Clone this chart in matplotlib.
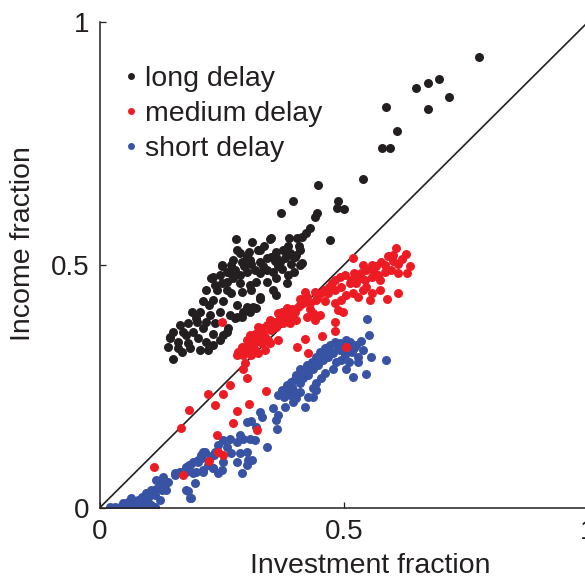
import matplotlib
matplotlib.use("Agg")
import matplotlib.pyplot as plt
from matplotlib.lines import Line2D

plt.rcParams['font.family'] = ['Liberation Sans', 'DejaVu Sans']

# ---------------- data ----------------
long_delay = [
(0.776,0.928),(0.647,0.864),(0.672,0.874),(0.696,0.883),(0.715,0.846),(0.672,0.821),(0.586,0.825),(0.610,0.776),
(0.578,0.741),(0.594,0.741),(0.539,0.677),(0.447,0.665),(0.488,0.632),(0.486,0.617),(0.500,0.615),(0.445,0.607),
(0.441,0.599),(0.431,0.576),(0.422,0.566),(0.414,0.558),(0.471,0.551),(0.414,0.504),(0.396,0.632),(0.371,0.607),
(0.404,0.556),(0.408,0.539),
(0.279,0.553),(0.313,0.548),(0.349,0.553),(0.388,0.555),(0.352,0.555),
(0.282,0.531),(0.306,0.527),(0.325,0.531),(0.362,0.527),(0.377,0.531),(0.386,0.540),(0.393,0.521),(0.401,0.517),
(0.291,0.507),(0.302,0.517),(0.311,0.503),(0.328,0.506),(0.342,0.514),(0.352,0.517),(0.359,0.508),(0.369,0.506),
(0.379,0.514),(0.251,0.500),(0.269,0.499),
(0.246,0.479),(0.260,0.486),(0.277,0.490),(0.287,0.479),(0.301,0.486),(0.318,0.490),(0.328,0.483),(0.342,0.490),
(0.355,0.486),(0.373,0.492),(0.386,0.479),(0.399,0.486),
(0.229,0.473),(0.236,0.459),(0.260,0.466),(0.274,0.473),(0.287,0.462),(0.308,0.459),(0.321,0.466),(0.342,0.466),
(0.362,0.473),(0.383,0.462),
(0.219,0.449),(0.240,0.449),(0.260,0.449),(0.270,0.442),(0.291,0.445),(0.311,0.449),(0.328,0.435),(0.355,0.449),
(0.362,0.438),
(0.212,0.425),(0.233,0.428),(0.253,0.425),(0.281,0.418),(0.301,0.414),(0.315,0.414),(0.328,0.431),
(0.189,0.404),(0.206,0.404),(0.226,0.397),(0.246,0.404),(0.267,0.397),(0.281,0.394),(0.294,0.404),(0.308,0.404),
(0.321,0.411),
(0.165,0.377),(0.182,0.380),(0.199,0.383),(0.219,0.383),(0.236,0.380),(0.263,0.370),(0.277,0.390),(0.291,0.394),
(0.151,0.363),(0.171,0.363),(0.192,0.363),(0.212,0.370),(0.233,0.359),(0.253,0.356),(0.260,0.363),
(0.144,0.349),(0.161,0.342),(0.182,0.339),(0.202,0.349),(0.219,0.342),(0.233,0.335),(0.246,0.346),
(0.151,0.306),(0.168,0.322),(0.185,0.329),(0.206,0.325),(0.223,0.325),(0.141,0.332),(0.144,0.352),
(0.296,0.497),(0.335,0.497),(0.366,0.497),(0.336,0.540),(0.392,0.503),(0.270,0.486),(0.250,0.462),(0.225,0.418),
(0.197,0.390),(0.178,0.356),(0.160,0.330),
(0.410,0.531),(0.403,0.521),(0.390,0.524),(0.376,0.531),(0.362,0.517),(0.328,0.531),(0.308,0.510),(0.287,0.524),
(0.274,0.510),(0.250,0.497),(0.233,0.476),(0.267,0.483),(0.410,0.500),
]

medium_delay = [
(0.606,0.536),(0.628,0.523),(0.591,0.519),(0.601,0.509),(0.611,0.503),(0.635,0.498),(0.630,0.484),(0.577,0.507),
(0.567,0.497),(0.557,0.500),(0.546,0.490),(0.536,0.483),(0.522,0.483),(0.519,0.514),(0.502,0.479),(0.492,0.476),
(0.482,0.469),(0.597,0.490),(0.584,0.486),(0.611,0.483),(0.570,0.479),(0.557,0.476),(0.543,0.469),(0.526,0.462),
(0.512,0.462),(0.495,0.455),(0.482,0.449),(0.468,0.442),(0.454,0.442),(0.441,0.445),(0.420,0.445),(0.424,0.435),
(0.611,0.443),(0.589,0.431),(0.574,0.449),(0.557,0.442),(0.553,0.428),(0.539,0.449),(0.529,0.435),(0.519,0.442),
(0.505,0.438),(0.495,0.428),(0.482,0.421),(0.488,0.407),(0.499,0.404),(0.461,0.425),(0.444,0.428),(0.430,0.421),
(0.417,0.421),(0.410,0.431),(0.407,0.414),(0.400,0.404),(0.390,0.397),(0.383,0.411),(0.373,0.404),(0.366,0.401),
(0.359,0.383),(0.349,0.387),(0.342,0.377),(0.332,0.370),(0.325,0.373),(0.318,0.359),(0.308,0.356),(0.301,0.346),
(0.291,0.332),(0.284,0.322),(0.281,0.315),(0.294,0.315),(0.311,0.332),(0.321,0.342),(0.328,0.352),(0.338,0.352),
(0.352,0.366),(0.362,0.373),(0.376,0.380),(0.390,0.380),(0.403,0.387),(0.424,0.394),(0.437,0.401),(0.441,0.387),
(0.451,0.397),(0.482,0.383),(0.482,0.365),(0.420,0.347),(0.405,0.331),(0.427,0.318),(0.456,0.354),(0.298,0.298),
(0.294,0.287),(0.301,0.267),(0.311,0.315),(0.325,0.318),(0.338,0.325),(0.349,0.339),(0.366,0.346),(0.332,0.339),
(0.318,0.325),(0.267,0.253),(0.340,0.241),(0.505,0.331),
(0.223,0.234),(0.252,0.235),(0.236,0.211),(0.184,0.202),(0.281,0.200),(0.306,0.213),(0.167,0.164),(0.274,0.174),
(0.323,0.160),(0.241,0.150),(0.243,0.116),(0.253,0.110),(0.225,0.097),(0.171,0.068),(0.111,0.085),(0.250,0.383),
(0.470,0.455),(0.515,0.470),(0.540,0.500),(0.560,0.489),(0.585,0.500),(0.600,0.521),(0.445,0.432),(0.460,0.448),
(0.395,0.410),(0.380,0.392),(0.355,0.372),(0.335,0.360),(0.315,0.345),(0.300,0.325),(0.305,0.338),(0.345,0.345),
(0.370,0.390),(0.410,0.418),(0.430,0.410),(0.475,0.462),(0.530,0.472),(0.575,0.470),(0.620,0.512),(0.545,0.455),
]

short_delay = [
(0.552,0.355),(0.536,0.344),(0.526,0.335),(0.512,0.342),(0.492,0.339),(0.482,0.342),(0.471,0.335),(0.461,0.329),
(0.451,0.322),(0.444,0.311),(0.434,0.301),(0.424,0.294),(0.410,0.287),(0.403,0.274),(0.393,0.260),(0.383,0.253),
(0.373,0.243),(0.366,0.233),(0.355,0.206),(0.366,0.191),(0.362,0.181),(0.364,0.163),(0.379,0.208),(0.397,0.219),
(0.400,0.239),(0.410,0.257),(0.417,0.267),(0.427,0.274),(0.437,0.287),(0.448,0.294),(0.458,0.305),(0.468,0.311),
(0.478,0.318),(0.492,0.325),(0.502,0.315),(0.516,0.322),(0.529,0.311),(0.539,0.325),(0.555,0.310),(0.587,0.305),
(0.546,0.276),(0.519,0.270),(0.505,0.287),(0.485,0.301),(0.478,0.287),(0.461,0.277),(0.454,0.267),(0.444,0.257),
(0.437,0.246),(0.427,0.229),(0.420,0.208),(0.437,0.229),(0.444,0.243),(0.403,0.226),(0.410,0.239),(0.390,0.233),
(0.328,0.198),(0.332,0.188),(0.311,0.178),(0.301,0.176),(0.321,0.167),(0.308,0.143),(0.318,0.140),(0.294,0.143),
(0.287,0.150),(0.281,0.136),(0.267,0.143),(0.260,0.126),(0.270,0.113),(0.253,0.140),(0.243,0.130),(0.236,0.116),
(0.229,0.106),(0.212,0.116),(0.209,0.102),(0.202,0.095),(0.192,0.095),(0.185,0.088),(0.178,0.075),(0.165,0.075),
(0.154,0.071),(0.192,0.071),(0.212,0.075),(0.233,0.082),(0.250,0.078),(0.253,0.095),(0.281,0.095),(0.291,0.071),
(0.301,0.088),(0.304,0.099),(0.287,0.113),(0.301,0.116),(0.343,0.126),(0.313,0.099),(0.548,0.388),
(0.021,0.003),(0.031,0.003),(0.041,0.003),(0.051,0.003),(0.062,0.003),(0.072,0.003),(0.082,0.003),(0.092,0.003),
(0.103,0.003),(0.113,0.003),
(0.048,0.010),(0.058,0.013),(0.069,0.010),(0.079,0.016),(0.065,0.020),(0.086,0.023),(0.096,0.030),(0.106,0.037),
(0.116,0.040),(0.127,0.037),(0.133,0.044),(0.123,0.051),(0.113,0.027),(0.099,0.020),(0.092,0.006),(0.106,0.006),
(0.123,0.016),(0.137,0.037),(0.116,0.058),(0.130,0.064),(0.140,0.054),(0.079,0.006),(0.055,0.006),
(0.154,0.068),(0.164,0.075),(0.178,0.085),(0.184,0.089),(0.201,0.099),(0.208,0.109),(0.215,0.116),(0.198,0.075),
(0.212,0.078),(0.222,0.089),(0.232,0.082),(0.181,0.034),(0.188,0.020),(0.195,0.052),(0.235,0.109),(0.242,0.071),
(0.185,0.021),(0.178,0.037),
(0.470,0.320),(0.488,0.330),(0.500,0.335),(0.520,0.330),(0.505,0.345),(0.460,0.310),(0.440,0.300),(0.415,0.280),
(0.400,0.265),(0.385,0.240),(0.378,0.228),(0.395,0.248),(0.425,0.290),(0.530,0.300),(0.510,0.300),(0.495,0.305),
]

series_names = ["long delay", "medium delay", "short delay"]
series_colors = ["#231f20", "#ed1c24", "#3953a4"]
tick_values = [0, 0.5, 1]
tick_labels = ["0", "0.5", "1"]

# ---------------- figure ----------------
fig = plt.figure(figsize=(5.85, 5.79), dpi=100)
ax = fig.add_axes([99.5/585, 71/579, 488.5/585, 486/579])

ax.plot([0, 1], [0, 1], color="#231f20", lw=1.2, zorder=1)

def unzip(pts):
    return [p[0] for p in pts], [p[1] for p in pts]

sx, sy = unzip(short_delay)
lx, ly = unzip(long_delay)
mx, my = unzip(medium_delay)
ax.scatter(sx, sy, s=42, color=series_colors[2], linewidths=0, zorder=2)
ax.scatter(lx, ly, s=42, color=series_colors[0], linewidths=0, zorder=3)
ax.scatter(mx, my, s=42, color=series_colors[1], linewidths=0, zorder=4)

ax.set_xlim(0, 1)
ax.set_ylim(0, 1)
ax.set_xticks(tick_values)
ax.set_xticklabels(tick_labels)
ax.set_yticks(tick_values)
ax.set_yticklabels(tick_labels)
ax.tick_params(direction='in', length=4, width=0.9, labelsize=20, colors='#231f20')
ax.tick_params(axis='x', pad=8)
ax.tick_params(axis='y', pad=7)
for side in ['top', 'right']:
    ax.spines[side].set_visible(False)
for side in ['left', 'bottom']:
    ax.spines[side].set_linewidth(1.1)
    ax.spines[side].set_color('#231f20')

ax.set_xlabel("Investment fraction", fontsize=20.5, color='#231f20')
ax.set_ylabel("Income fraction", fontsize=20.5, color='#231f20')
ax.xaxis.label.set_va('center')
ax.xaxis.set_label_coords((370-99.5)/488.5, (508-566)/486)
ax.yaxis.label.set_va('center')
ax.yaxis.set_label_coords((23-99.5)/488.5, (508-244)/486)

handles = [Line2D([], [], marker='o', linestyle='none', markersize=5, markeredgewidth=0,
                  color=c) for c in series_colors]
ax.legend(handles, series_names, loc='upper left', bbox_to_anchor=(124/585, 1-66/579),
          bbox_transform=fig.transFigure, frameon=False, fontsize=20.5,
          handlelength=0.5, handletextpad=0.25, borderpad=0, borderaxespad=0,
          labelspacing=0.31, labelcolor='#231f20')

fig.savefig("out.png", dpi=100)
